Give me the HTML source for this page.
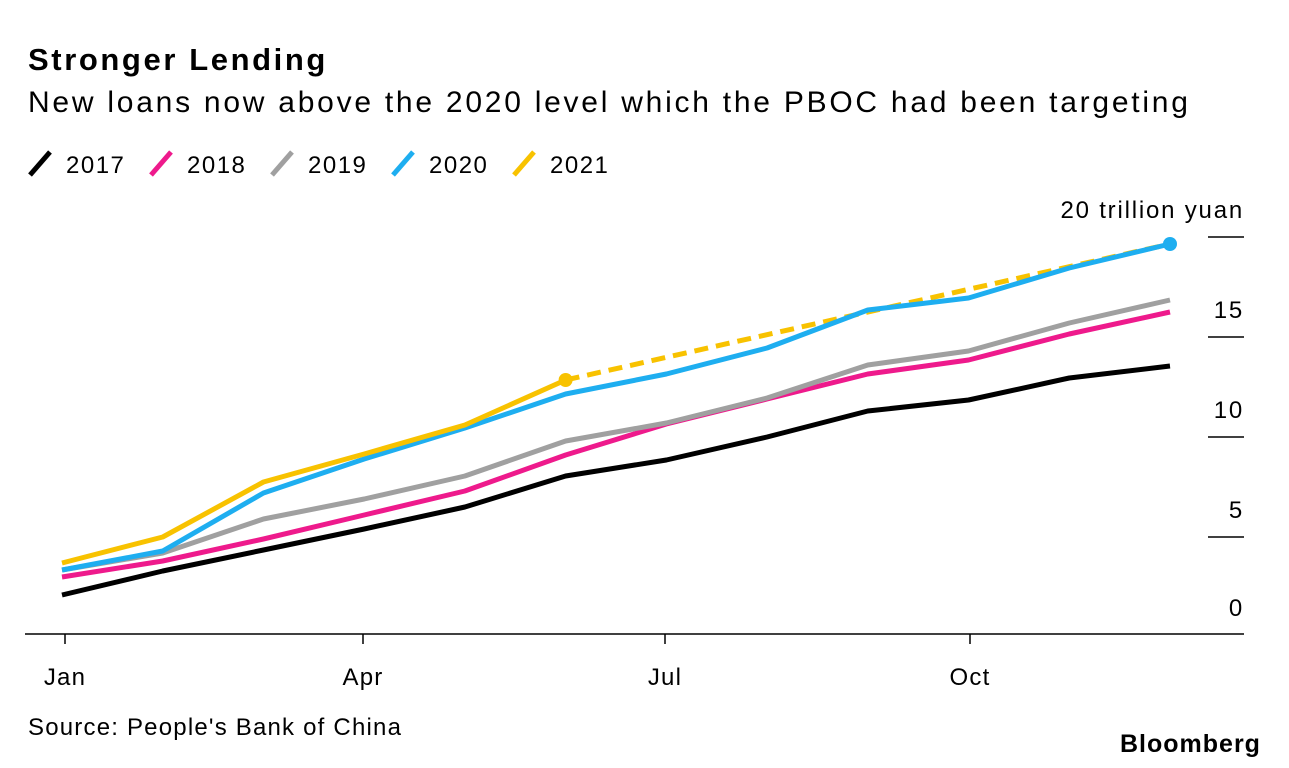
<!DOCTYPE html>
<html><head><meta charset="utf-8">
<style>
body{margin:0;width:1289px;height:768px;background:#fff;font-family:"Liberation Sans",sans-serif;color:#000;overflow:hidden;position:relative}
.t{position:absolute;white-space:nowrap}
</style></head><body>
<div class="t" style="left:28px;top:42px;font-size:31px;font-weight:bold;letter-spacing:2.6px">Stronger Lending</div>
<div class="t" style="left:28px;top:86px;font-size:30px;letter-spacing:2.75px">New loans now above the 2020 level which the PBOC had been targeting</div>
<div class="t" style="left:28px;top:714px;font-size:24px;letter-spacing:1.2px">Source: People's Bank of China</div>
<div class="t" style="left:1120px;top:730px;font-size:25px;font-weight:bold;letter-spacing:1px">Bloomberg</div>
<svg id="chart" width="1289" height="768" style="position:absolute;left:0;top:0"></svg>
<script>
const months=["Jan","Feb","Mar","Apr","May","Jun","Jul","Aug","Sep","Oct","Nov","Dec"];
const years=["2017","2018","2019","2020","2021"];
const colors=["#000000","#ee1a8c","#a0a0a0","#1eaef0","#f8c200"];
const s2017=[2.1,3.3,4.35,5.4,6.5,8.05,8.85,10,11.3,11.85,12.95,13.55];
const s2018=[3.0,3.8,4.9,6.1,7.3,9.1,10.65,11.9,13.15,13.85,15.15,16.25];
const s2019=[3.35,4.2,5.9,6.9,8.05,9.8,10.7,11.95,13.6,14.3,15.7,16.85];
const s2020=[3.35,4.3,7.2,8.9,10.45,12.15,13.15,14.45,16.35,16.95,18.45,19.65];
const s2021=[3.7,5.0,7.75,9.15,10.6,12.85];
const yTicks=[0,5,10,15,20];
const xTickLabels=["Jan","Apr","Jul","Oct"];
const xTickIdx=[0,3,6,9];
const series=[s2017,s2018,s2019,s2020,s2021];
const NS="http://www.w3.org/2000/svg";
const svg=document.getElementById('chart');
const x=i=>62+i*(1170-62)/11;
const y=v=>637-v*20;
function mk(t,a){const e=document.createElementNS(NS,t);for(const k in a)e.setAttribute(k,a[k]);svg.appendChild(e);return e;}
years.forEach((yr,i)=>{
  const lx=30+i*121;
  const l=mk('line',{x1:lx,y1:175,x2:lx+20,y2:152,stroke:colors[i],'stroke-width':5});
  
  
  const t=mk('text',{x:lx+36,y:173,'font-size':24,'letter-spacing':'1.5','font-family':'Liberation Sans, sans-serif'});
  t.textContent=yr;
  
  
});
yTicks.forEach(v=>{
  if(v>0){const l=mk('line',{x1:1208,x2:1244,y1:y(v),y2:y(v),stroke:'#000','stroke-width':1.5});
  
  }
  const t=mk('text',{x:1244,y:v==0?y(v)-21:y(v)-19,'font-size':24,'letter-spacing':'1.8','text-anchor':'end','font-family':'Liberation Sans, sans-serif'});
  t.textContent=v==20?'20 trillion yuan':v;
  
  
});
const ax=mk('line',{x1:25,x2:1244,y1:634,y2:634,stroke:'#000','stroke-width':1.5});


xTickIdx.forEach((m,i)=>{
  const xx=[65,363,665,970][i];
  const l=mk('line',{x1:xx,x2:xx,y1:634,y2:644,stroke:'#000','stroke-width':1.5});
  
  
  const t=mk('text',{x:xx,y:685,'font-size':24,'letter-spacing':'1.2','text-anchor':'middle','font-family':'Liberation Sans, sans-serif'});
  t.textContent=xTickLabels[i];
  
  
});
const last=s2021.length-1;
const d=mk('line',{x1:x(last),y1:y(s2021[last]),x2:x(11),y2:y(s2020[11]),stroke:colors[4],'stroke-width':5,'stroke-dasharray':'14 8'});


series.forEach((s,i)=>{
  const p=mk('polyline',{points:s.map((v,j)=>x(j)+','+y(v)).join(' '),fill:'none',stroke:colors[i],'stroke-width':5,'stroke-linejoin':'round'});
  
  
});
const c1=mk('circle',{cx:x(last),cy:y(s2021[last]),r:7,fill:colors[4]});


const c2=mk('circle',{cx:x(11),cy:y(s2020[11]),r:7,fill:colors[3]});


</script>
</body></html>
